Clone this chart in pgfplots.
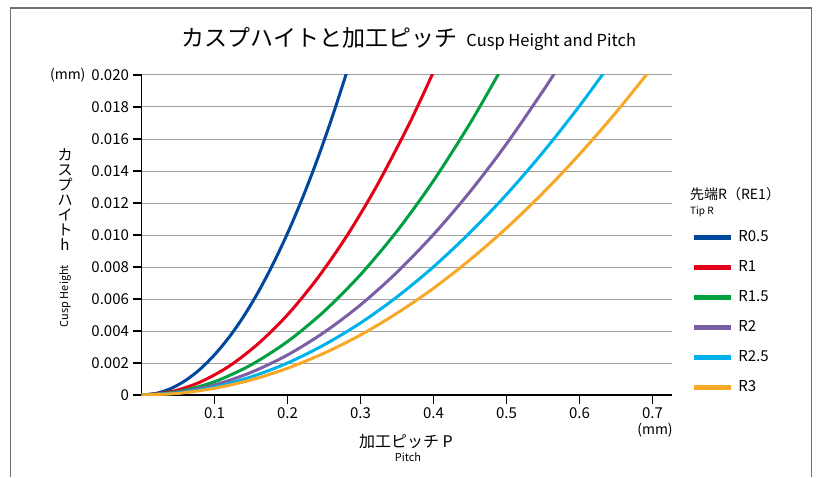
\documentclass[border=0pt]{standalone}
\usepackage{pgfplots}
\pgfplotsset{compat=1.18}
\usepackage{fontspec}
\setmainfont{Noto Sans CJK JP}
\definecolor{cBlue}{HTML}{00489C}
\definecolor{cRed}{HTML}{E50019}
\definecolor{cGreen}{HTML}{00A040}
\definecolor{cPurple}{HTML}{7A5EA6}
\definecolor{cCyan}{HTML}{00B2EC}
\definecolor{cOrange}{HTML}{F7A827}
\definecolor{frame}{HTML}{707070}
\begin{document}
\begin{tikzpicture}[x=1pt,y=1pt]
\useasboundingbox (0pt,0pt) rectangle (816pt,477pt);
\draw[line width=1.5pt, frame] (10.5pt,0pt) -- (10.5pt,469pt) -- (811.5pt,469pt) -- (811.5pt,0pt);
% title
\node[anchor=base] at (409pt,430pt) {{\fontsize{23}{25}\selectfont カスプハイトと加工ピッチ}\hspace{9pt}{\fontsize{16.5}{18}\selectfont Cusp Height and Pitch}};
\begin{axis}[
  at={(141.5pt,82pt)}, anchor=south west, scale only axis,
  width=530.5pt, height=320pt,
  xmin=0, xmax=0.7268, ymin=0, ymax=0.020,
  axis lines=left, axis line style={-, line width=1.4pt},
  tick align=outside, major tick length=9pt,
  tick style={black, line width=1.2pt},
  xtick={0.1,0.2,0.3,0.4,0.5,0.6,0.7},
  xticklabels={0.1,0.2,0.3,0.4,0.5,0.6,0.7},
  ytick={0,0.002,0.004,0.006,0.008,0.010,0.012,0.014,0.016,0.018,0.020},
  yticklabels={0,0.002,0.004,0.006,0.008,0.010,0.012,0.014,0.016,0.018,0.020},
  scaled y ticks=false, scaled x ticks=false,
  ticklabel style={font=\fontsize{15}{17}\selectfont},
  ymajorgrids, grid style={gray!75, line width=1pt},
  legend style={at={(axis description cs:1.036,0.518)}, anchor=north west,
    draw=none, fill=none, font=\fontsize{15}{17}\selectfont,
    row sep=14pt, inner sep=0pt,
    nodes={inner sep=1pt, text height=11pt, text depth=3pt},
    /tikz/every odd column/.append style={column sep=4pt}},
  legend cell align=left,
  legend image code/.code={\draw[#1, line width=5pt] (0pt,0pt) -- (37pt,0pt);},
  every axis plot/.append style={line width=3pt, smooth, no markers},
]
\addplot[cBlue] coordinates {(0,0) (0.02,0.00010) (0.04,0.00040) (0.06,0.00090) (0.08,0.00160) (0.10,0.00251) (0.12,0.00361) (0.14,0.00492) (0.16,0.00644) (0.18,0.00817) (0.20,0.01010) (0.22,0.01225) (0.24,0.01461) (0.26,0.01720) (0.28,0.02000) (0.29,0.02149)};
\addlegendentry{R0.5}
\addplot[cRed] coordinates {(0,0) (0.04,0.00020) (0.08,0.00080) (0.12,0.00180) (0.16,0.00321) (0.20,0.00501) (0.24,0.00723) (0.28,0.00985) (0.32,0.01288) (0.36,0.01633) (0.38,0.01821) (0.40,0.02020) (0.41,0.02124)};
\addlegendentry{R1}
\addplot[cGreen] coordinates {(0,0) (0.05,0.00021) (0.10,0.00083) (0.15,0.00188) (0.20,0.00334) (0.25,0.00522) (0.30,0.00752) (0.35,0.01024) (0.40,0.01339) (0.45,0.01697) (0.49,0.02014) (0.50,0.02098)};
\addlegendentry{R1.5}
\addplot[cPurple] coordinates {(0,0) (0.05,0.00016) (0.10,0.00063) (0.15,0.00141) (0.20,0.00250) (0.25,0.00391) (0.30,0.00563) (0.35,0.00767) (0.40,0.01003) (0.45,0.01270) (0.50,0.01569) (0.55,0.01900) (0.57,0.02041)};
\addlegendentry{R2}
\addplot[cCyan] coordinates {(0,0) (0.05,0.000125) (0.10,0.00050) (0.15,0.00113) (0.20,0.00200) (0.25,0.00313) (0.30,0.00450) (0.35,0.00613) (0.40,0.00801) (0.45,0.01015) (0.50,0.01253) (0.55,0.01517) (0.60,0.01806) (0.64,0.02056)};
\addlegendentry{R2.5}
\addplot[cOrange] coordinates {(0,0) (0.05,0.00010) (0.10,0.00042) (0.15,0.00094) (0.20,0.00167) (0.25,0.00261) (0.30,0.00375) (0.35,0.00511) (0.40,0.00667) (0.45,0.00845) (0.50,0.01043) (0.55,0.01263) (0.60,0.01504) (0.65,0.01766) (0.70,0.02049)};
\addlegendentry{R3}
\end{axis}
% unit labels
\node[anchor=east, font=\fontsize{14}{16}\selectfont] at (89pt,402pt) {(mm)};
\node[font=\fontsize{14}{16}\selectfont] at (655pt,47pt) {(mm)};
% x label
\node[anchor=base, font=\fontsize{16}{18}\selectfont] at (406pt,30pt) {加工ピッチ P};
\node[anchor=base, font=\fontsize{11}{13}\selectfont] at (408pt,16pt) {Pitch};
% y label
\node[font=\fontsize{15}{15}\selectfont, inner sep=0pt, align=center] at (65pt,277pt) {カ\\ス\\プ\\ハ\\イ\\ト\\h};
\node[rotate=90, font=\fontsize{11}{13}\selectfont] at (65pt,181pt) {Cusp Height};
% legend title
\node[anchor=base west, font=\fontsize{14}{16}\selectfont, inner sep=0pt] at (690pt,277pt) {先端R（RE1）};
\node[anchor=base west, font=\fontsize{10}{12}\selectfont, inner sep=0pt] at (690pt,262pt) {Tip R};
\end{tikzpicture}
\end{document}
